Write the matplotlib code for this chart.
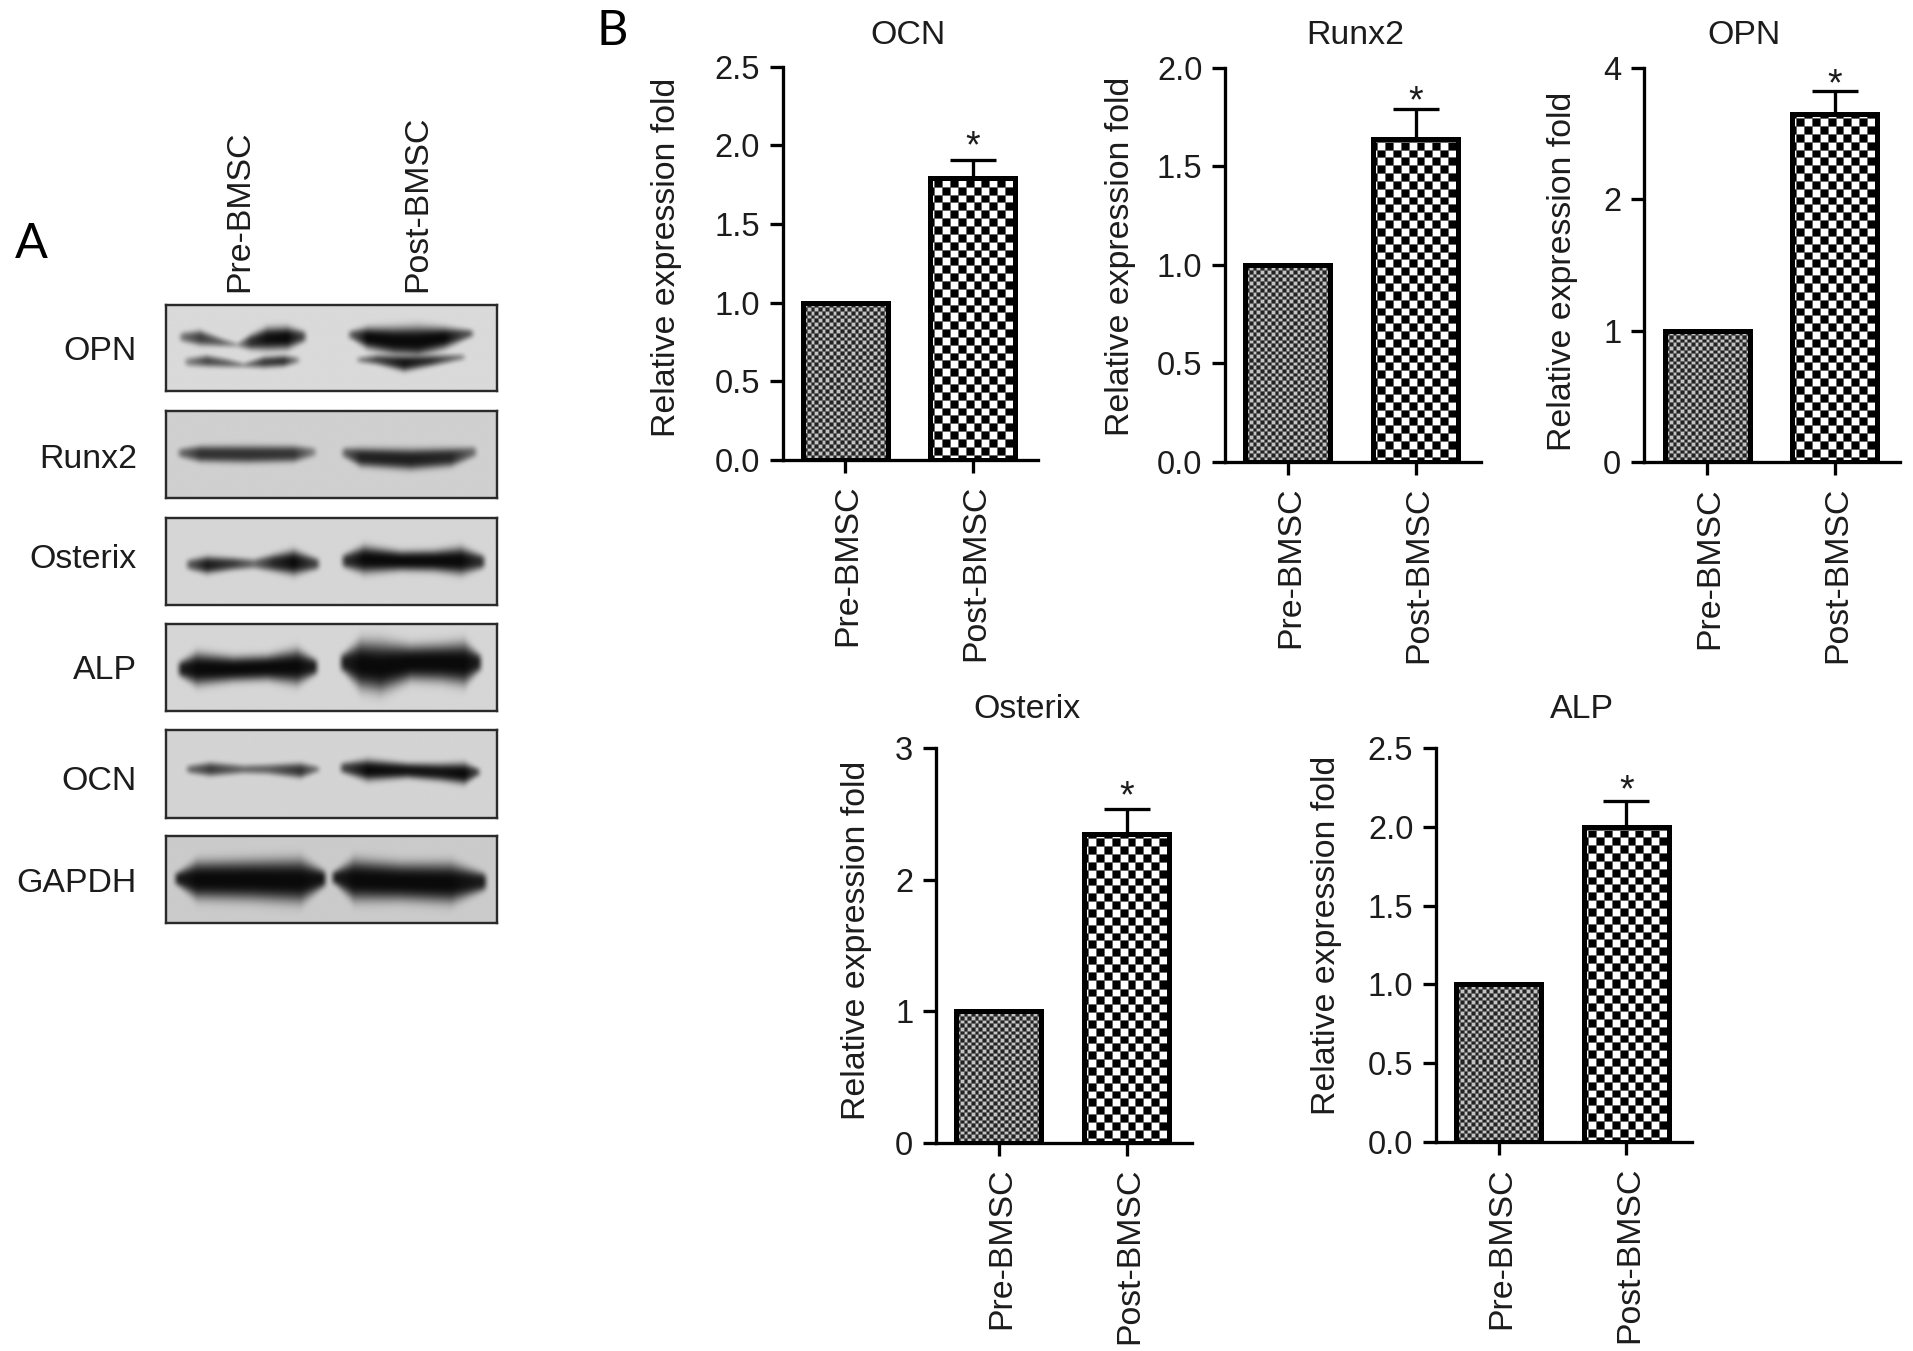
import numpy as np
import matplotlib
matplotlib.use('Agg')
import matplotlib.pyplot as plt
from matplotlib.transforms import IdentityTransform, ScaledTranslation

plt.rcParams['font.family'] = ['Liberation Sans', 'DejaVu Sans']

W, H = 1913, 1351

# Panel B data
genes = ['OCN', 'Runx2', 'OPN', 'Osterix', 'ALP']
groups = ['Pre-BMSC', 'Post-BMSC']
pre_values = [1.0, 1.0, 1.0, 1.0, 1.0]
post_values = [1.79, 1.64, 3.30, 2.35, 2.00]
post_tops = [1.91, 1.79, 3.65, 2.54, 2.16]
y_ticks = [[0, 0.5, 1, 1.5, 2, 2.5], [0, 0.5, 1, 1.5, 2], [0, 1, 2, 4], [0, 1, 2, 3], [0, 0.5, 1, 1.5, 2, 2.5]]
y_ticklabels = [['0.0', '0.5', '1.0', '1.5', '2.0', '2.5'], ['0.0', '0.5', '1.0', '1.5', '2.0'],
                ['0', '1', '2', '4'], ['0', '1', '2', '3'], ['0.0', '0.5', '1.0', '1.5', '2.0', '2.5']]

# layout of panel B in pixels: spine x, right end, y of 0, y of top
ax_left = [782.5, 1225, 1644, 936, 1436]
ax_right = [1038, 1481, 1900, 1192, 1692]
ax_y0 = [460, 461.7, 462.3, 1142.7, 1142.3]
ax_ytop = [66.7, 67.7, 67.7, 748.3, 747.7]
pre_x = [845, 1287.5, 1707, 998.7, 1498.5]
post_x = [972.5, 1415.5, 1834.5, 1126.8, 1626.3]
title_pos = [(908, 35), (1355, 35), (1744, 35), (1027, 710), (1582, 709)]
ylabel_pos = [(666, 257), (1121, 256), (1562, 271), (857, 940), (1326, 935)]
star_offset = [12, 7, 5, 11, 10]

# Panel A blot rows, in crop coordinates (x/3, 280 + y/2.38)
blot_names = ['OPN', 'Runx2', 'Osterix', 'ALP', 'OCN', 'GAPDH']
blot_tops = [60, 312, 566, 818, 1070, 1323]
blot_bottoms = [265, 520, 773, 1025, 1280, 1530]
blot_bg = [218, 208, 214, 214, 212, 203]
blot_label_y = [351, 459, 560, 670, 781, 884]

# each band is a list of (x, y, half thickness, darkness)
blot_bands = [
    [[(550, 138, 8, .5), (600, 140, 12, .75), (660, 150, 7, .55), (710, 157, 4, .25), (750, 150, 12, .8),
      (800, 142, 18, .97), (860, 140, 18, 1), (905, 137, 10, .7)],
     [(565, 197, 7, .4), (620, 195, 9, .7), (680, 200, 7, .55), (730, 205, 4, .35), (790, 198, 9, .75),
      (850, 195, 9, .8), (885, 193, 6, .4)],
     [(1055, 133, 8, .6), (1100, 140, 17, 1), (1180, 147, 22, 1), (1250, 148, 24, 1), (1330, 140, 17, 1),
      (1405, 130, 7, .6)],
     [(1080, 192, 5, .4), (1130, 192, 8, .7), (1210, 200, 13, .95), (1290, 194, 9, .8), (1380, 186, 5, .4)]],
    [[(545, 414, 8, .5), (600, 416, 13, .8), (740, 417, 14, .8), (880, 416, 13, .78), (935, 412, 8, .4)],
     [(1035, 414, 9, .55), (1080, 424, 15, .88), (1230, 429, 17, .9), (1350, 424, 15, .85), (1415, 412, 9, .5)]],
    [[(570, 677, 9, .6), (620, 678, 14, .92), (700, 675, 10, .75), (760, 675, 8, .5), (820, 673, 14, .85),
      (880, 672, 20, 1), (945, 675, 10, .7)],
     [(1035, 668, 12, .8), (1090, 665, 22, 1), (1200, 668, 16, 1), (1300, 668, 17, 1), (1380, 668, 22, 1),
      (1440, 670, 12, .8)]],
    [[(545, 925, 14, .9), (590, 925, 26, 1), (700, 925, 20, 1), (800, 922, 20, 1), (890, 920, 28, 1),
      (940, 920, 14, .9)],
     [(1030, 910, 16, .9), (1080, 915, 38, 1), (1140, 920, 40, 1), (1230, 910, 28, 1), (1320, 910, 30, 1),
      (1390, 912, 34, 1), (1430, 910, 16, .9)]],
    [[(570, 1165, 7, .5), (630, 1165, 11, .75), (730, 1165, 7, .5), (800, 1165, 8, .55), (900, 1168, 12, .8),
      (945, 1165, 6, .45)],
     [(1030, 1162, 9, .7), (1100, 1167, 17, 1), (1220, 1168, 12, .95), (1320, 1172, 14, .95), (1390, 1175, 17, 1),
      (1425, 1172, 8, .7)]],
    [[(535, 1425, 12, .9), (590, 1428, 30, 1), (750, 1428, 32, 1), (900, 1430, 35, 1), (965, 1425, 15, .95)],
     [(1005, 1422, 12, .9), (1060, 1428, 33, 1), (1200, 1432, 30, 1), (1350, 1435, 32, 1), (1445, 1432, 15, .9)]],
]

PX = 0.72  # points per pixel at dpi 100
FS = 24.4
TICK_FS = 23.5
TXT = '#1c1c1c'


def add_axes_px(left, right, top, bottom):
    return fig.add_axes([left / W, 1 - bottom / H, (right - left) / W, (bottom - top) / H])


def px_text(x, y, s, **kw):
    kw.setdefault('fontsize', FS)
    kw.setdefault('color', TXT)
    kw.setdefault('ha', 'center')
    kw.setdefault('va', 'center')
    return fig.text(x / W, 1 - y / H, s, **kw)


def blur(a, n):
    # small box blur so the patterns look as soft as in the scan
    k = np.ones(n) / n
    a = np.apply_along_axis(lambda r: np.convolve(r, k, mode='same'), 0, a)
    a = np.apply_along_axis(lambda r: np.convolve(r, k, mode='same'), 1, a)
    return a


def checker_fill(ax, bar, cell, low, high, n_blur):
    bb = bar.get_window_extent()
    nx, ny = int(bb.width) + 8, int(bb.height) + 8
    yy, xx = np.mgrid[0:ny, 0:nx]
    # rows counted from the bottom of the bar
    chk = ((np.floor(xx / cell) + np.floor(yy / cell)) % 2).astype(float)
    img = low + (high - low) * blur(chk, n_blur) ** 1.3
    ax.imshow(img[4:-4, 4:-4], cmap='gray', vmin=0, vmax=255, origin='lower', aspect='auto', interpolation='nearest',
              extent=(bb.x0, bb.x1, bb.y0, bb.y1), transform=IdentityTransform(), zorder=2)


def band_layer(xs, ys, band):
    pts = np.array(band, dtype=float)
    x_p = np.r_[pts[0, 0] - 18, pts[:, 0], pts[-1, 0] + 18]
    yc = np.interp(xs, x_p, np.r_[pts[0, 1], pts[:, 1], pts[-1, 1]])
    hh = 1.25 * np.interp(xs, x_p, np.r_[pts[0, 2] * 0.8, pts[:, 2], pts[-1, 2] * 0.8])
    dark = np.interp(xs, x_p, np.r_[0, pts[:, 3], 0], left=0, right=0)
    return dark[None, :] * np.exp(-0.7 * (np.abs(ys[:, None] - yc[None, :]) / hh[None, :]) ** 3)


fig = plt.figure(figsize=(W / 100, H / 100), dpi=100, facecolor='white')

# Panel A
for name, top, bottom, bg, label_y, bands in zip(blot_names, blot_tops, blot_bottoms, blot_bg, blot_label_y, blot_bands):
    ax = add_axes_px(166, 497, 280 + top / 2.38, 280 + bottom / 2.38)
    xs = np.arange(498, 1491, 1.5)
    ys = np.arange(top, bottom + 1, 1.5)
    d = np.zeros((len(ys), len(xs)))
    for band in bands:
        d = np.maximum(d, band_layer(xs, ys, band))
    d = blur(np.pad(d, 10, mode='edge'), 9)[10:-10, 10:-10]
    img = bg * (1 - d) + 10 * d
    ax.imshow(img, cmap='gray', vmin=0, vmax=255, aspect='auto', interpolation='bilinear',
              extent=(498, 1490, bottom, top))
    ax.set_xticks([])
    ax.set_yticks([])
    for s in ax.spines.values():
        s.set_linewidth(2.4 * PX)
        s.set_color('#2a2a2a')
    px_text(137, label_y, name, ha='right')

px_text(240, 292, groups[0], rotation=90, va='bottom')
px_text(418, 292, groups[1], rotation=90, va='bottom')
px_text(31, 244, 'A', fontsize=35, family=['Lato', 'DejaVu Sans'], color='black')
px_text(612, 31, 'B', fontsize=35, family=['Lato', 'DejaVu Sans'], color='black')

# Panel B
def opn_forward(v):
    return np.interp(v, [0, 1, 2, 4, 8], [0, 1, 2, 3, 4])


def opn_inverse(v):
    return np.interp(v, [0, 1, 2, 3, 4], [0, 1, 2, 4, 8])


for i, gene in enumerate(genes):
    ax = add_axes_px(ax_left[i], ax_right[i], ax_ytop[i], ax_y0[i])
    ax.patch.set_alpha(0)
    if gene == 'OPN':
        # axis of this panel runs 0, 1, 2, 4 with equal steps
        ax.set_yscale('function', functions=(opn_forward, opn_inverse))
    spacing = post_x[i] - pre_x[i]
    xlim = ((ax_left[i] - pre_x[i]) / spacing, (ax_right[i] - pre_x[i]) / spacing)
    ylim = (y_ticks[i][0], y_ticks[i][-1])
    ax.set_xlim(xlim)
    ax.set_ylim(ylim)
    ax.autoscale(False)

    bars = ax.bar([0, 1], [pre_values[i], post_values[i]], width=85 / spacing, facecolor='none', edgecolor='black',
                  linewidth=5 * PX, zorder=3)
    checker_fill(ax, bars[0], 3.67, 35, 195, 2)
    checker_fill(ax, bars[1], 7.85, 0, 255, 2)

    ax.errorbar([1], [post_values[i]], yerr=[[0], [post_tops[i] - post_values[i]]], color='black',
                elinewidth=3.3 * PX, capsize=23 * PX, capthick=3.3 * PX, zorder=2.5)
    ax.annotate('*', xy=(1, post_tops[i]), xytext=(0, star_offset[i] * PX), textcoords='offset points', ha='center',
                va='center', fontsize=27, color=TXT, annotation_clip=False)

    ax.set_xlim(xlim)
    ax.set_ylim(ylim)
    ax.set_xticks([0, 1])
    ax.set_xticklabels(groups, rotation=90, fontsize=FS, color=TXT)
    ax.set_yticks(y_ticks[i])
    ax.set_yticklabels(y_ticklabels[i], fontsize=TICK_FS, color=TXT)
    ax.minorticks_off()
    ax.tick_params(axis='y', length=13 * PX, width=3.3 * PX, pad=7)
    ax.tick_params(axis='x', length=13 * PX, width=3.3 * PX, pad=8.5)
    # tick_params resets the label transforms, so nudge them after it
    for lab in ax.get_xticklabels():
        lab.set_transform(lab.get_transform() + ScaledTranslation(3 / 100, 0, fig.dpi_scale_trans))
    ax.spines['top'].set_visible(False)
    ax.spines['right'].set_visible(False)
    ax.spines['left'].set_linewidth(3.3 * PX)
    ax.spines['bottom'].set_linewidth(3.3 * PX)
    ax.spines['bottom'].set_zorder(4)
    ax.spines['left'].set_zorder(4)

    px_text(title_pos[i][0], title_pos[i][1], gene)
    px_text(ylabel_pos[i][0], ylabel_pos[i][1], 'Relative expression fold', rotation=90)

fig.savefig('out.png', dpi=100, facecolor='white')
